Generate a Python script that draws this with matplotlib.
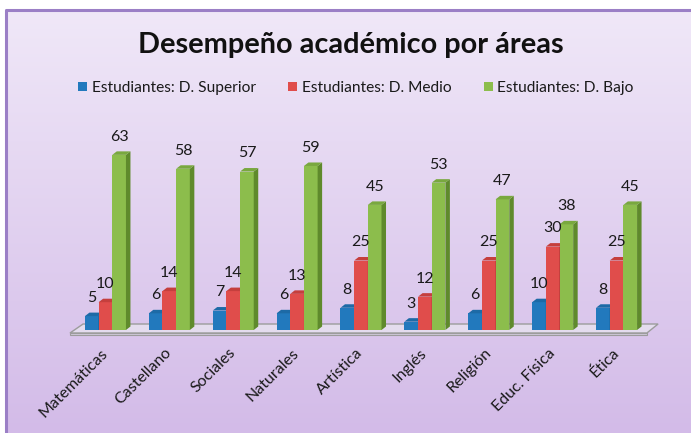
import matplotlib.pyplot as plt
import numpy as np
from matplotlib.patches import Polygon

plt.rcParams['font.family'] = ['Lato', 'DejaVu Sans']

# Datos
areas = ["Matemáticas", "Castellano", "Sociales", "Naturales", "Artística",
         "Inglés", "Religión", "Educ. Física", "Ética"]
superior = [5, 6, 7, 6, 8, 3, 6, 10, 8]
medio = [10, 14, 14, 13, 25, 12, 25, 30, 25]
bajo = [63, 58, 57, 59, 45, 53, 47, 38, 45]
series_names = ["Estudiantes: D. Superior", "Estudiantes: D. Medio", "Estudiantes: D. Bajo"]

front = ["#2279bd", "#e04d4b", "#8cbd4c"]
side = ["#175689", "#a83331", "#5f8a2c"]
top = ["#1d6aa6", "#c53f3d", "#79a83f"]

W, H = 691, 433
fig = plt.figure(figsize=(W / 100, H / 100), dpi=100)

# Fondo con degradado
bg = fig.add_axes([0, 0, 1, 1])
bg.set_xlim(0, W)
bg.set_ylim(H, 0)
bg.axis("off")
grad = np.linspace(0, 1, 256).reshape(-1, 1)
c0 = np.array([0xf0, 0xe8, 0xf8]) / 255
c1 = np.array([0xd3, 0xbb, 0xe8]) / 255
img = c0 + (c1 - c0) * grad[..., None]
bg.imshow(img, extent=[5, W, H, 9], aspect="auto", zorder=0)
bg.plot([6, 6, W], [H, 10, 10], color="#9b7fc6", lw=2.2, zorder=1)

# Ejes principales
ax = fig.add_axes([73.5 / W, (H - 330) / H, 575 / W, 194.6 / H])
ax.patch.set_alpha(0)
ax.set_xlim(-0.5, 8.5)
ax.set_ylim(0, 70)
for s in ax.spines.values():
    s.set_visible(False)
ax.set_yticks([])

px_x = 63.9       # pixeles por categoría
px_y = 194.6 / 70  # pixeles por unidad
ddx = 4.5 / px_x
ddy = 3.5 / px_y

# Piso
fl = [(-0.555, -3 / px_y), (8.475, -3 / px_y), (8.65, 6 / px_y), (-0.35, 6 / px_y)]
ax.add_patch(Polygon(fl, closed=True, facecolor="#e4dcee", edgecolor="#9c9c9c",
                     lw=1.0, clip_on=False, zorder=1))
ax.add_patch(Polygon([(-0.555, -3 / px_y), (8.475, -3 / px_y), (8.475, -4.5 / px_y),
                      (-0.555, -4.5 / px_y)], closed=True, facecolor="#d0c8da",
                     edgecolor="#9c9c9c", lw=0.8, clip_on=False, zorder=1))

x = np.arange(len(areas))
bw = 0.214
data = [superior, medio, bajo]
for i in range(len(areas)):
    for k in range(3):
        h = data[k][i]
        x0 = x[i] + (k - 1) * bw - bw / 2
        x1 = x0 + bw
        z = 3 + i * 3 + k
        ax.bar(x0, h, width=bw, align="edge", color=front[k], zorder=z,
               label=series_names[k] if i == 0 else None)
        ax.add_patch(Polygon([(x1, 0), (x1 + ddx, ddy), (x1 + ddx, h + ddy), (x1, h)],
                             closed=True, facecolor=side[k], edgecolor="none", zorder=z))
        ax.add_patch(Polygon([(x0, h), (x0 + ddx, h + ddy), (x1 + ddx, h + ddy), (x1, h)],
                             closed=True, facecolor=top[k], edgecolor="none", zorder=z))
        ax.annotate(str(h), (x0 + bw / 2, h), xytext=(0, 8), textcoords="offset points",
                    ha="center", va="bottom", fontsize=11.5, color="#1a1a1a", zorder=40)

ax.set_xticks(x)
ax.set_xticklabels(areas, rotation=45, ha="right", va="center",
                   rotation_mode="anchor", fontsize=11.5, color="#1a1a1a")
ax.tick_params(axis="x", length=0, pad=15)

fig.text(351 / W, 1 - 45 / H, "Desempeño académico por áreas", ha="center", va="center",
         fontsize=20.8, fontweight="bold", color="#111111")

leg = fig.legend(*ax.get_legend_handles_labels(), loc="center", ncol=3,
                 bbox_to_anchor=(356 / W, 1 - 88 / H), frameon=False, fontsize=11.2,
                 handlelength=0.55, handleheight=0.55, handletextpad=0.3, columnspacing=2.1,
                 labelcolor="#1a1a1a")

fig.savefig("out.png", dpi=100)
